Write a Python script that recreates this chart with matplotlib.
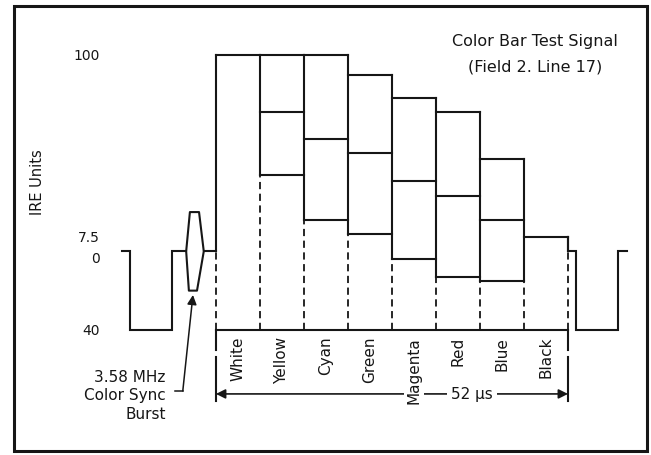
import matplotlib.pyplot as plt
from matplotlib.patches import Rectangle, Polygon

# colour bar levels in IRE units
bar_names = ["White", "Yellow", "Cyan", "Green", "Magenta", "Red", "Blue", "Black"]
chroma_top = [100, 100, 100, 90, 78, 71, 47, 7.5]
luma = [100, 71, 57, 50, 36, 28, 16, 7.5]
chroma_bottom = [100, 39, 16, 9, -4, -13, -15, 7.5]

active_us = 52          # active line time
sync_level = -40
burst_amp = 20

# blanking / sync around the bars (time in us from start of active video, level in IRE)
left_t = [-13.9, -12.7, -12.7, -6.5, -6.5, -4.4]
left_v = [0, 0, -40, -40, 0, 0]
burst_t = [-4.4, -3.85, -2.5, -1.8, -2.8, -4.0]
burst_v = [0, 20, 20, 0, -20, -20]
porch_t = [-1.8, 0]
porch_v = [0, 0]
right_t = [52, 52, 53.2, 53.2, 59.4, 59.4, 60.7]
right_v = [7.5, 0, 0, -40, -40, 0, 0]

tick_vals = [100, 7.5, 0, -40]
tick_labels = ["100", "7.5", "0", "40"]

ink = "#161616"
lw = 1.5
plt.rcParams['font.family'] = ['DejaVu Sans']

fig = plt.figure(figsize=(6.51, 4.56), dpi=100)
ax = fig.add_axes([0, 0, 1, 1])
ax.set_xlim(-31.9, 64.26)
ax.set_ylim(-103.7, 128.5)
ax.axis("off")

# outer frame
ax.add_patch(Rectangle((-29.8, -101.6), 93.5, 226.3, fill=False, ec=ink, lw=2.2))

# sync and burst
ax.plot(left_t, left_v, color=ink, lw=lw, solid_joinstyle="miter")
ax.add_patch(Polygon(list(zip(burst_t, burst_v)), closed=True, fill=False,
                     ec=ink, lw=lw, joinstyle="round"))
ax.plot(porch_t, porch_v, color=ink, lw=lw)
ax.plot(right_t, right_v, color=ink, lw=lw, solid_joinstyle="miter")

# bars
bar_len = active_us / len(bar_names)
for i in range(len(bar_names)):
    t0, t1 = i * bar_len, (i + 1) * bar_len
    for lvl in {chroma_top[i], luma[i], chroma_bottom[i]}:
        ax.plot([t0, t1], [lvl, lvl], color=ink, lw=lw)

tops = [0] + chroma_top + [0]
bottoms = [0] + chroma_bottom + [0]
for j in range(len(bar_names) + 1):
    t = j * bar_len
    hi = max(tops[j], tops[j + 1])
    lo = min(bottoms[j], bottoms[j + 1])
    ax.plot([t, t], [lo, hi], color=ink, lw=lw)
    ax.plot([t, t], [sync_level, lo], color=ink, lw=1.3, ls=(0, (4, 2.5)))

# baseline and the 52 us dimension
ax.plot([0, active_us], [sync_level, sync_level], color=ink, lw=lw)
for t in [0, active_us]:
    ax.plot([t, t], [sync_level, -50], color=ink, lw=lw)
    ax.plot([t, t], [-54, -76], color=ink, lw=lw)
ax.annotate("", xy=(0, -72.6), xytext=(active_us, -72.6),
            arrowprops=dict(arrowstyle="<|-|>", color=ink, lw=1.2,
                            mutation_scale=14, shrinkA=0, shrinkB=0))

for i, name in enumerate(bar_names):
    bb = dict(fc="white", ec="none", pad=2) if name == "Magenta" else None
    ax.text((i + 0.5) * bar_len, -43, name, rotation=90, ha="center", va="top",
            fontsize=11, color=ink, bbox=bb)
ax.text(37.8, -72.6, "52 \u00b5s", ha="center", va="center", fontsize=11,
        color=ink, bbox=dict(fc="white", ec="none", pad=3))

# y labels
for v, s in zip(tick_vals, tick_labels):
    ax.text(-17.1, v, s, ha="right", va="top" if v == 0 else "center",
            fontsize=10, color=ink)
ax.text(-26.4, 35.6, "IRE Units", rotation=90, ha="center", va="center",
        fontsize=10.5, color=ink)

# title
ax.text(47.1, 107.6, "Color Bar Test Signal", ha="center", va="center",
        fontsize=11.5, color=ink)
ax.text(47.1, 94.4, "(Field 2. Line 17)", ha="center", va="center",
        fontsize=11.5, color=ink)

# burst callout
ax.text(-7.4, -73, "3.58 MHz\nColor Sync\nBurst", ha="right", va="center",
        multialignment="right", fontsize=11, color=ink, linespacing=1.3)
ax.plot([-6.1, -4.9], [-71.1, -71.1], color=ink, lw=1.1)
ax.annotate("", xy=(-3.4, -22.2), xytext=(-4.9, -71.1),
            arrowprops=dict(arrowstyle="-|>", color=ink, lw=1.1,
                            mutation_scale=14, shrinkA=0, shrinkB=0))

fig.savefig("out.png", dpi=100)
